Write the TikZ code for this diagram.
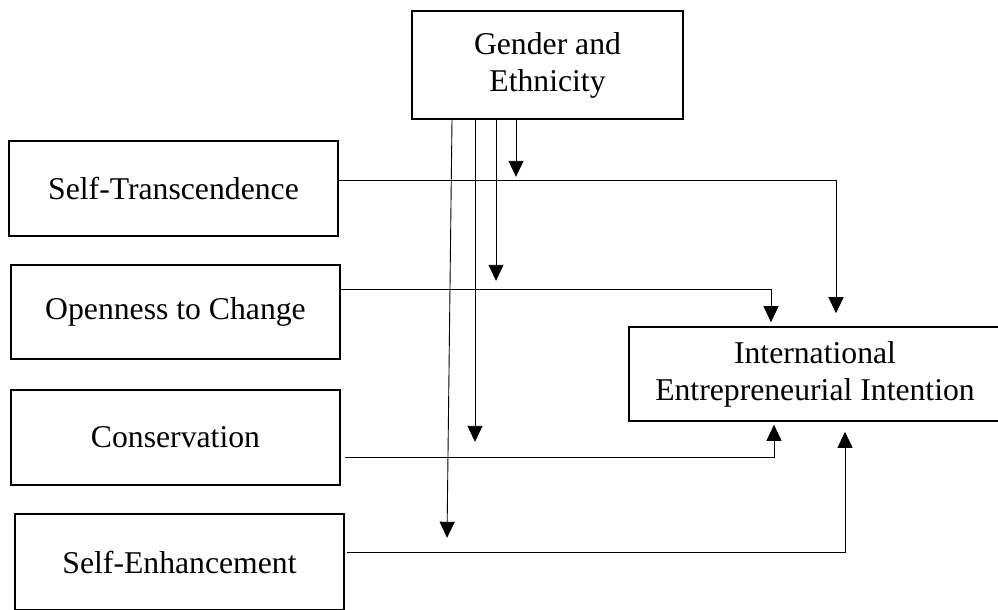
\documentclass[tikz,border=0pt]{standalone}
\usepackage{fontspec}
\setmainfont{Liberation Serif}
\usetikzlibrary{arrows.meta}
\begin{document}
\begin{tikzpicture}[x=1pt,y=1pt,
  boxnode/.style={draw=black,line width=1.6pt,inner sep=0pt,align=center,
    font=\fontsize{31.7}{37}\selectfont},
  conn/.style={draw=black,line width=0.9pt,-{Triangle[width=15pt,length=16pt]}},
  plain/.style={draw=black,line width=0.9pt}]
\useasboundingbox (0,0) rectangle (998,-610);
\node[boxnode,minimum width=271pt,minimum height=108pt] (ge) at (547.5,-65) {Gender and\\Ethnicity};
\node[boxnode,minimum width=329pt,minimum height=95pt] (st) at (173.5,-188.5) {Self-Transcendence};
\node[boxnode,minimum width=329pt,minimum height=94pt] (oc) at (175.5,-312) {Openness to Change};
\node[boxnode,minimum width=329pt,minimum height=95pt] (co) at (175.5,-437.5) {Conservation};
\node[boxnode,minimum width=329pt,minimum height=96pt] (se) at (179.5,-562) {Self-Enhancement};
\node[boxnode,minimum width=372pt,minimum height=94pt] (iei) at (815,-374) {International\\Entrepreneurial Intention};
% predictors to outcome
\draw[conn] ([yshift=8.5pt]st.east) -| ([xshift=21pt,yshift=13pt]iei.north);
\draw[conn] ([yshift=23pt]oc.east) -| ([xshift=-44pt,yshift=4pt]iei.north);
\draw[conn] ([xshift=4pt,yshift=-19.5pt]co.east) -| ([xshift=-41pt,yshift=-3pt]iei.south);
\draw[conn] ([xshift=2pt,yshift=10pt]se.east) -| ([xshift=30pt,yshift=-10pt]iei.south);
% moderator arrows
\draw[conn] ([xshift=-31.5pt]ge.south) -- ++(0,-57);
\draw[conn] ([xshift=-51.5pt]ge.south) -- ++(0,-161);
\draw[conn] ([xshift=-72.5pt]ge.south) -- ++(0,-322);
\draw[conn] ([xshift=-95.5pt]ge.south) -- ++(-5,-418);
\end{tikzpicture}
\end{document}
